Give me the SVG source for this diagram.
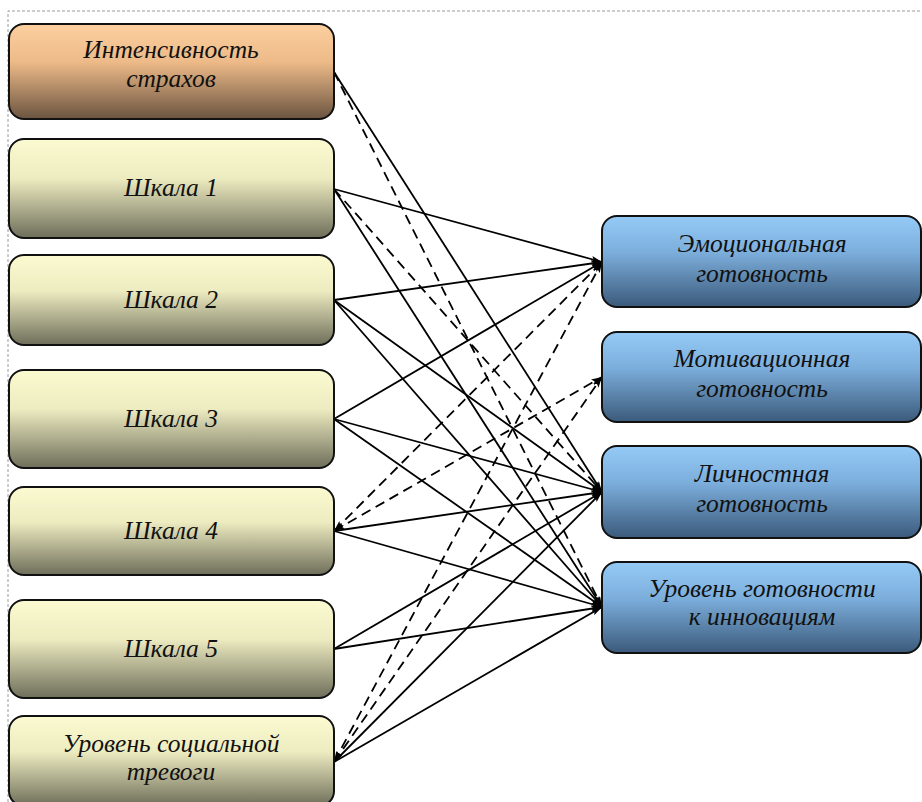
<svg xmlns="http://www.w3.org/2000/svg" width="922" height="802" viewBox="0 0 922 802">
<defs>
<linearGradient id="gPeach" x1="0" y1="0" x2="0" y2="1">
<stop offset="0" stop-color="#FDCF9F"/><stop offset="0.4" stop-color="#EDBA88"/><stop offset="1" stop-color="#6B5440"/>
</linearGradient>
<linearGradient id="gYellow" x1="0" y1="0" x2="0" y2="1">
<stop offset="0" stop-color="#FCFAD0"/><stop offset="0.4" stop-color="#EDEBC0"/><stop offset="1" stop-color="#6E6E5A"/>
</linearGradient>
<linearGradient id="gBlue" x1="0" y1="0" x2="0" y2="1">
<stop offset="0" stop-color="#95CAF6"/><stop offset="0.4" stop-color="#7CAEDC"/><stop offset="1" stop-color="#3B5A7B"/>
</linearGradient>
<marker id="arr" viewBox="0 0 10 6" refX="10" refY="3" markerWidth="11" markerHeight="6.5" markerUnits="userSpaceOnUse" orient="auto-start-reverse">
<path d="M0,0 L10,3 L0,6 L2,3 Z" fill="#000"/>
</marker>
<style>
.box{stroke:#111;stroke-width:2}
.t{font-family:'Liberation Serif','Times New Roman',serif;font-style:italic;font-size:25.5px;fill:#111;text-anchor:middle}
.c{fill:none;stroke:#000;stroke-width:1.8;marker-end:url(#arr)}
.d{stroke-dasharray:10,6}
.b{marker-start:url(#arr)}
</style>
</defs>
<rect width="922" height="802" fill="#fff"/>
<path d="M8,802 V11 H922" fill="none" stroke="#9a9a9a" stroke-width="1" stroke-dasharray="3,2"/>

<g id="connectors">
<line class="c" x1="334" y1="72" x2="602" y2="492"/>
<line class="c d" x1="334" y1="72" x2="602" y2="607"/>
<line class="c" x1="334" y1="189" x2="602" y2="262"/>
<line class="c" x1="334" y1="189" x2="602" y2="607"/>
<line class="c d" x1="334" y1="189" x2="602" y2="492"/>
<line class="c" x1="334" y1="300" x2="602" y2="262"/>
<line class="c" x1="334" y1="300" x2="602" y2="492"/>
<line class="c" x1="334" y1="300" x2="602" y2="607"/>
<line class="c" x1="334" y1="419" x2="602" y2="262"/>
<line class="c" x1="334" y1="419" x2="602" y2="492"/>
<line class="c" x1="334" y1="419" x2="602" y2="607"/>
<line class="c d b" x1="334" y1="531" x2="602" y2="262"/>
<line class="c d b" x1="334" y1="531" x2="602" y2="377"/>
<line class="c" x1="334" y1="531" x2="602" y2="492"/>
<line class="c" x1="334" y1="531" x2="602" y2="607"/>
<line class="c" x1="334" y1="649" x2="602" y2="492"/>
<line class="c" x1="334" y1="649" x2="602" y2="607"/>
<line class="c d b" x1="334" y1="762" x2="602" y2="262"/>
<line class="c d b" x1="334" y1="762" x2="602" y2="377"/>
<line class="c" x1="334" y1="762" x2="602" y2="492"/>
<line class="c" x1="334" y1="762" x2="602" y2="607"/>
</g>

<g id="n-intensity">
<rect class="box" x="9" y="24" width="325" height="95" rx="15" fill="url(#gPeach)"/>
<text class="t" x="171" y="58">Интенсивность</text>
<text class="t" x="171" y="87">страхов</text>
</g>
<g id="n-scale1">
<rect class="box" x="9" y="139" width="325" height="99" rx="15" fill="url(#gYellow)"/>
<text class="t" x="171" y="196">Шкала 1</text>
</g>
<g id="n-scale2">
<rect class="box" x="9" y="255" width="325" height="90" rx="15" fill="url(#gYellow)"/>
<text class="t" x="171" y="308">Шкала 2</text>
</g>
<g id="n-scale3">
<rect class="box" x="9" y="370" width="325" height="98" rx="15" fill="url(#gYellow)"/>
<text class="t" x="171" y="427">Шкала 3</text>
</g>
<g id="n-scale4">
<rect class="box" x="9" y="487" width="325" height="88" rx="15" fill="url(#gYellow)"/>
<text class="t" x="171" y="539">Шкала 4</text>
</g>
<g id="n-scale5">
<rect class="box" x="9" y="600" width="325" height="98" rx="15" fill="url(#gYellow)"/>
<text class="t" x="171" y="657">Шкала 5</text>
</g>
<g id="n-social">
<rect class="box" x="9" y="716" width="325" height="90" rx="15" fill="url(#gYellow)"/>
<text class="t" x="171" y="752">Уровень социальной</text>
<text class="t" x="171" y="780">тревоги</text>
</g>

<g id="n-emotional">
<rect class="box" x="602" y="216" width="319" height="91" rx="15" fill="url(#gBlue)"/>
<text class="t" x="762" y="252">Эмоциональная</text>
<text class="t" x="762" y="282">готовность</text>
</g>
<g id="n-motivational">
<rect class="box" x="602" y="332" width="319" height="90" rx="15" fill="url(#gBlue)"/>
<text class="t" x="762" y="367">Мотивационная</text>
<text class="t" x="762" y="397">готовность</text>
</g>
<g id="n-personal">
<rect class="box" x="602" y="446" width="319" height="92" rx="15" fill="url(#gBlue)"/>
<text class="t" x="762" y="482">Личностная</text>
<text class="t" x="762" y="512">готовность</text>
</g>
<g id="n-innovation">
<rect class="box" x="602" y="562" width="319" height="91" rx="15" fill="url(#gBlue)"/>
<text class="t" x="762" y="597">Уровень готовности</text>
<text class="t" x="762" y="625">к инновациям</text>
</g>
</svg>
